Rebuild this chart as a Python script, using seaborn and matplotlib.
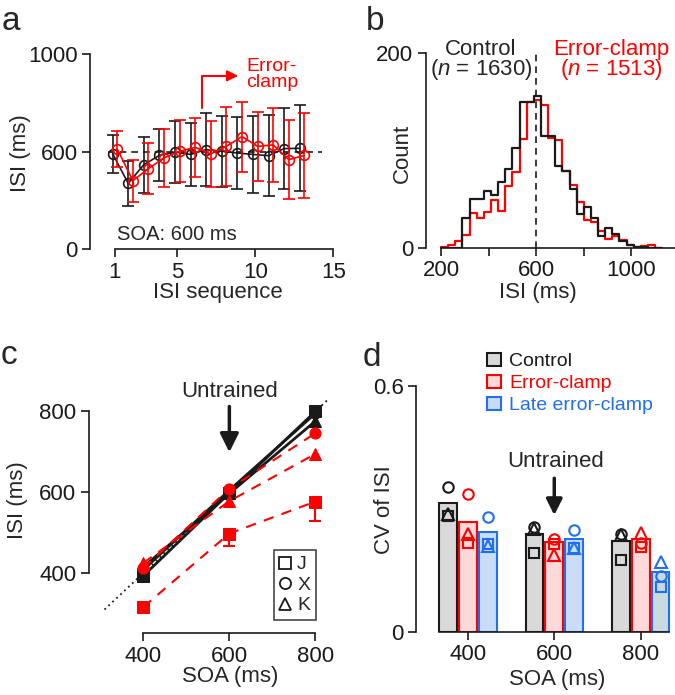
import numpy as np
import pandas as pd
import matplotlib as mpl
mpl.use('Agg')
import matplotlib.pyplot as plt
from matplotlib.patches import Patch
from matplotlib.lines import Line2D
import seaborn as sns


# ---- a: ISI along the sequence, SOA 600 ms (mean +- SD)
isi_seq = np.arange(1, 14)
ctrl_mean = [593, 472, 548, 586, 600, 590, 610, 603, 596, 590, 585, 614, 615]
ctrl_sd = [78, 91, 114, 106, 127, 129, 149, 144, 148, 158, 165, 165, 176]
clamp_mean = [612, 483, 532, 576, 603, 619, 592, 623, 663, 623, 629, 569, 586]
clamp_sd = [72, 86, 103, 118, 126, 121, 133, 160, 143, 142, 151, 160, 172]

# ---- b: ISI histograms (30 ms bins)
bin_edges = list(range(200, 1131, 30))
ctrl_counts = [0, 0, 0, 31, 50, 50, 58, 54, 68, 81, 103, 150, 150, 156, 115, 115,
               84, 79, 60, 35, 42, 31, 12, 21, 14, 7, 3, 1, 1, 0, 0]
clamp_counts = [1, 3, 7, 13, 36, 31, 37, 49, 38, 64, 78, 112, 150, 152, 147, 113,
                111, 79, 65, 47, 29, 27, 17, 9, 12, 8, 3, 1, 2, 3, 0]

# ---- c: ISI vs SOA per monkey
soa = [400, 600, 800]
subjects = ['J', 'X', 'K']
isi_ctrl = {'J': [393, 598, 800], 'X': [408, 605, 795], 'K': [415, 597, 776]}
isi_clamp = {'J': [316, 498, 577], 'X': [412, 609, 746], 'K': [425, 578, 695]}
err_ctrl_J = [0, 0, 12]       # upper only
err_clamp_J = [13, 30, 48]    # lower only
ref_line = [310, 830]

# ---- d: CV of ISI
soa_labels = ['400', '600', '800']
conditions = ['Control', 'Error-clamp', 'Late error-clamp']
cv_bar = {'Control': [0.315, 0.239, 0.223],
          'Error-clamp': [0.269, 0.219, 0.228],
          'Late error-clamp': [0.243, 0.226, 0.147]}
cv_subj = {'Control': {'J': [0.283, 0.193, 0.176], 'X': [0.353, 0.255, 0.239], 'K': [0.289, 0.251, 0.236]},
           'Error-clamp': {'J': [0.218, 0.214, 0.208], 'X': [0.336, 0.226, 0.218], 'K': [0.238, 0.189, 0.241]},
           'Late error-clamp': {'J': [0.215, 0.204, 0.110], 'X': [0.280, 0.250, 0.137], 'K': [0.210, 0.206, 0.171]}}

RED = '#ff0000'
BLUE = '#1f6ff0'
markers = {'J': 's', 'X': 'o', 'K': '^'}

sns.set_theme(style='ticks')
plt.rcParams['font.family'] = ['Liberation Sans', 'DejaVu Sans']
plt.rcParams['mathtext.fontset'] = 'custom'
plt.rcParams['mathtext.rm'] = 'Liberation Sans'
plt.rcParams['mathtext.it'] = 'Liberation Sans:italic'
plt.rcParams['axes.linewidth'] = 1.2

W, H = 675, 695
fig = plt.figure(figsize=(W / 100, H / 100), dpi=100)


def box(l, t, r, b):
    return [l / W, 1 - b / H, (r - l) / W, (b - t) / H]


def style_axes(ax):
    sns.despine(ax=ax)
    ax.tick_params(direction='out', length=6, width=1.2, labelsize=16, pad=3, colors='k')
    for s in ['left', 'bottom']:
        ax.spines[s].set_color('k')
    ax.set_facecolor('none')


def put_labels(ax, xlab, ylab, xpos, ypos):
    ax.set_xlabel(xlab, fontsize=16)
    ax.set_ylabel(ylab, fontsize=16)
    ax.xaxis.set_label_coords(*xpos)
    ax.yaxis.set_label_coords(*ypos)


# ================= a =================
ax = fig.add_axes(box(90, 54, 341, 249))
ax.plot([0.55, 14.3], [600, 600], ls=(0, (4, 3)), color='k', lw=1.2)
sns.lineplot(x=isi_seq - 0.15, y=ctrl_mean, color='k', marker='o', ms=7, mfc='none',
             mec='k', mew=1.2, lw=1.2, ax=ax)
ax.errorbar(isi_seq - 0.15, ctrl_mean, yerr=ctrl_sd, fmt='none', ecolor='k',
            elinewidth=1.2, capsize=4, capthick=1.2)
sns.lineplot(x=isi_seq + 0.15, y=clamp_mean, color=RED, marker='o', ms=7, mfc='none',
             mec=RED, mew=1.2, lw=1.2, ax=ax)
ax.errorbar(isi_seq + 0.15, clamp_mean, yerr=clamp_sd, fmt='none', ecolor=RED,
            elinewidth=1.2, capsize=4, capthick=1.2)
ax.annotate('', xy=(8.9, 911), xytext=(6.6, 780),
            arrowprops=dict(arrowstyle='-|>', color=RED, lw=1.5, mutation_scale=16,
                            connectionstyle='angle,angleA=90,angleB=0,rad=0',
                            shrinkA=0, shrinkB=0))
ax.text(9.4, 915, 'Error-\nclamp', color=RED, fontsize=14, ha='left', va='center', linespacing=0.95)
ax.text(1.1, 262, 'SOA: 600 ms', fontsize=14.5, ha='left', va='center')
ax.set_xlim(-0.6, 15.5)
ax.set_ylim(204, 1000)
ax.set_xticks([1, 5, 10, 15])
ax.set_yticks([204, 600, 1000])
ax.set_yticklabels(['0', '600', '1000'])
style_axes(ax)
ax.spines['left'].set_bounds(204, 1000)
ax.spines['bottom'].set_bounds(1, 15)
put_labels(ax, 'ISI sequence', 'ISI (ms)', (0.51, -0.168), (-0.235, 0.49))

# ================= b =================
ax = fig.add_axes(box(426, 53, 679, 248))
centers = [e + 15 for e in bin_edges[:-1]]
hist_df = pd.DataFrame({'isi': centers, 'ctrl': ctrl_counts, 'clamp': clamp_counts})
ax.plot([600, 600], [0, 201], ls=(0, (4, 3)), color='k', lw=1.2)
sns.histplot(data=hist_df, x='isi', weights='clamp', bins=bin_edges, element='step', fill=False,
             color=RED, lw=1.6, ax=ax)
sns.histplot(data=hist_df, x='isi', weights='ctrl', bins=bin_edges, element='step', fill=False,
             color='k', lw=1.6, ax=ax)
ax.text(368, 192, 'Control\n($n$ = 1630)', fontsize=16, ha='center', va='center',
        linespacing=0.85)
ax.text(917, 192, 'Error-clamp\n($n$ = 1513)', fontsize=16, ha='center', va='center',
        linespacing=0.85, color=RED)
ax.set_xlim(137, 1200)
ax.set_ylim(0, 200)
ax.set_xticks([200, 400, 600, 800, 1000, 1200])
ax.set_xticklabels(['200', '', '600', '', '1000', ''])
ax.set_yticks([0, 200])
style_axes(ax)
ax.spines['left'].set_bounds(0, 200)
ax.spines['bottom'].set_bounds(200, 1200)
put_labels(ax, 'ISI (ms)', 'Count', (0.442, -0.172), (-0.05, 0.487))

# ================= c =================
ax = fig.add_axes(box(89, 379, 337, 633))
ax.plot(ref_line, ref_line, ls=(0, (1, 2)), color='k', lw=1.3)
rows = []
for cond, vals in [('Control', isi_ctrl), ('Error-clamp', isi_clamp)]:
    for s in subjects:
        for x, y in zip(soa, vals[s]):
            rows.append({'cond': cond, 'subj': s, 'soa': x, 'isi': y})
df_c = pd.DataFrame(rows)
sns.lineplot(data=df_c[df_c.cond == 'Control'], x='soa', y='isi', style='subj', markers=markers,
             dashes=False, color='k', mec='k', ms=8, lw=2, errorbar=None, legend=False, ax=ax)
ax.errorbar(soa, isi_ctrl['J'], yerr=[[0, 0, 0], err_ctrl_J], fmt='none', ecolor='k',
            elinewidth=1.5, capsize=4, capthick=1.5)
sns.lineplot(data=df_c[df_c.cond == 'Error-clamp'], x='soa', y='isi', style='subj', markers=markers,
             dashes=False, color=RED, mec=RED, ms=8, lw=1.5, linestyle=(0, (5, 4)),
             errorbar=None, legend=False, ax=ax)
ax.errorbar(soa, isi_clamp['J'], yerr=[err_clamp_J, [0, 0, 0]], fmt='none', ecolor=RED,
            elinewidth=1.5, capsize=4, capthick=1.5)
ax.annotate('', xy=(600, 699), xytext=(600, 812),
            arrowprops=dict(arrowstyle='-|>', color='k', lw=2.5, mutation_scale=28,
                            shrinkA=0, shrinkB=0))
ax.text(600, 848, 'Untrained', fontsize=16, ha='center', va='center')
handles = [Line2D([], [], ls='none', marker=markers[s], mfc='none', mec='k', mew=1.3, ms=8, label=s)
           for s in subjects]
leg = ax.legend(handles=handles, loc='lower right', bbox_to_anchor=(0.915, 0.05), fontsize=14,
                frameon=True, fancybox=False, edgecolor='k', handlelength=0.6,
                handletextpad=0.3, labelspacing=0.15, borderpad=0.3, borderaxespad=0)
leg.get_frame().set_linewidth(1.2)
ax.set_xlim(274, 850)
ax.set_ylim(252, 880)
ax.set_xticks(soa)
ax.set_yticks([400, 600, 800])
style_axes(ax)
ax.spines['left'].set_bounds(400, 800)
ax.spines['bottom'].set_bounds(400, 800)
put_labels(ax, 'SOA (ms)', 'ISI (ms)', (0.569, -0.13), (-0.245, 0.524))

# ================= d =================
ax = fig.add_axes(box(416, 386, 677, 632))
faces = ['#d9d9d9', '#fdd9d9', '#c9ddf7']
edges = ['k', RED, BLUE]
rows = []
for cond in conditions:
    for lab, v in zip(soa_labels, cv_bar[cond]):
        rows.append({'soa': lab, 'cond': cond, 'cv': v})
df_d = pd.DataFrame(rows)
sns.barplot(data=df_d, x='soa', y='cv', hue='cond', order=soa_labels, hue_order=conditions,
            palette=dict(zip(conditions, faces)), saturation=1, width=0.69, gap=0.11,
            errorbar=None, legend=False, linewidth=1.5, ax=ax)
for cont, ec in zip(ax.containers, edges):
    for bar in cont:
        bar.set_edgecolor(ec)
ax.containers[2][2].set_facecolor('#c8dadf')
for cont, cond, ec in zip(ax.containers, conditions, edges):
    xs = [b.get_x() + b.get_width() / 2 for b in cont]
    for s in subjects:
        ax.plot(xs, cv_subj[cond][s], ls='none', marker=markers[s], mfc='none', mec=ec,
                mew=1.5, ms=7.5 if s != 'K' else 8.5)
ax.annotate('', xy=(1, 0.285), xytext=(1, 0.375),
            arrowprops=dict(arrowstyle='-|>', color='k', lw=2.5, mutation_scale=24,
                            shrinkA=0, shrinkB=0))
ax.text(1.02, 0.415, 'Untrained', fontsize=16, ha='center', va='center')
handles = [Patch(facecolor=f, edgecolor=e, lw=1.5, label=c) for f, e, c in zip(faces, edges, conditions)]
leg = ax.legend(handles=handles, loc='upper left', bbox_to_anchor=(0.272, 1.135), frameon=False,
                fontsize=14, handlelength=0.7, handleheight=0.7, handletextpad=0.45,
                labelspacing=0.22, borderpad=0, borderaxespad=0)
for t, e in zip(leg.get_texts(), edges):
    t.set_color(e)
lo = min(b.get_x() for cont in ax.containers for b in cont)
hi = max(b.get_x() + b.get_width() for cont in ax.containers for b in cont)
ax.set_xlim(-0.6, 2.42)
ax.set_ylim(0, 0.6)
ax.set_yticks([0, 0.6])
ax.set_yticklabels(['0', '0.6'])
style_axes(ax)
ax.spines['left'].set_bounds(0, 0.6)
ax.spines['bottom'].set_bounds(lo, hi)
put_labels(ax, 'SOA (ms)', 'CV of ISI', (0.54, -0.15), (-0.08, 0.496))

# panel letters
for lab, x, y in [('a', 2, 30), ('b', 366, 30), ('c', 1, 364), ('d', 363, 366)]:
    fig.text(x / W, 1 - y / H, lab, fontsize=24, ha='left', va='baseline')

fig.savefig('out.png', dpi=100)
